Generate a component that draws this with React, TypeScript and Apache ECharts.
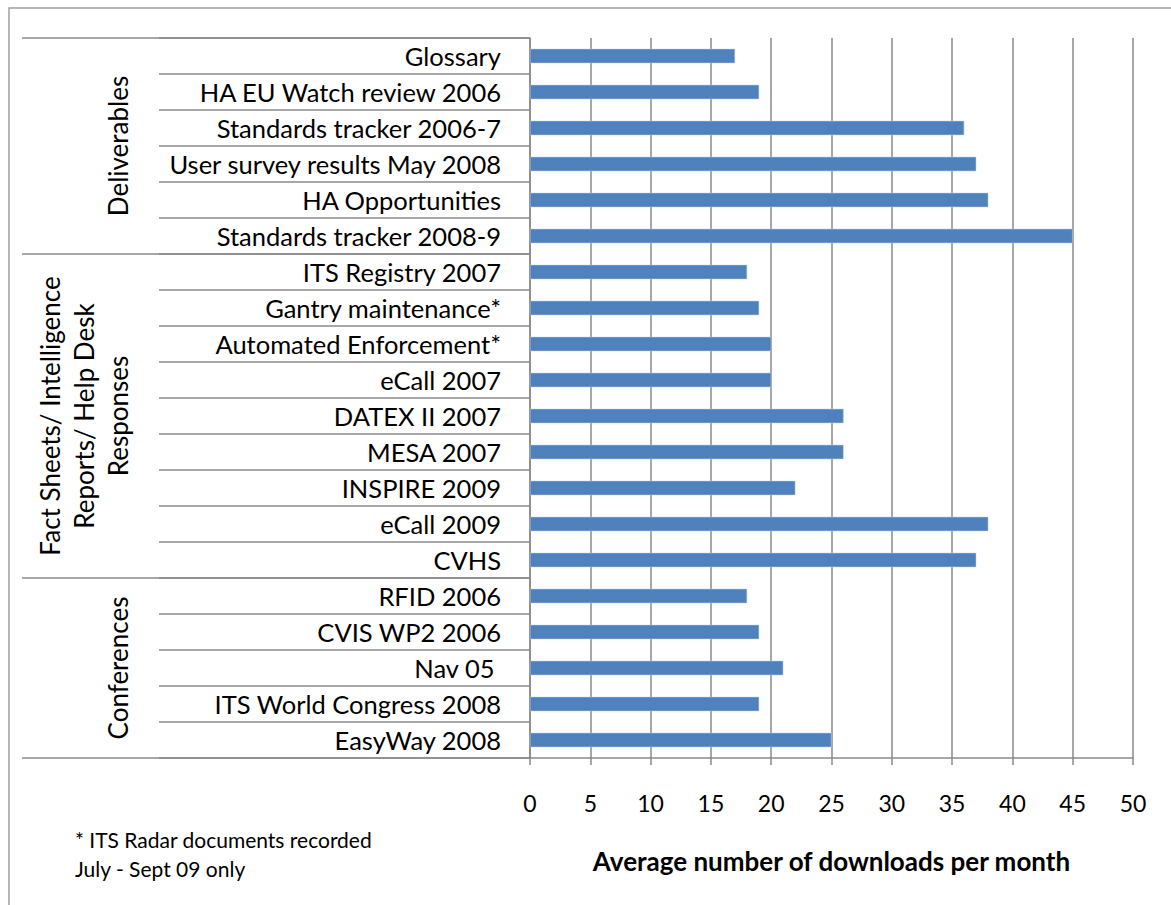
import React, { useEffect, useRef } from "react";
import * as echarts from "echarts";

const categories = [
  "Glossary",
  "HA EU Watch review 2006",
  "Standards tracker 2006-7",
  "User survey results May 2008",
  "HA Opportunities",
  "Standards tracker 2008-9",
  "ITS Registry 2007",
  "Gantry maintenance*",
  "Automated Enforcement*",
  "eCall 2007",
  "DATEX II 2007",
  "MESA 2007",
  "INSPIRE 2009",
  "eCall 2009",
  "CVHS",
  "RFID 2006",
  "CVIS WP2 2006",
  "Nav 05 ",
  "ITS World Congress 2008",
  "EasyWay 2008",
];

const downloads = [17, 19, 36, 37, 38, 45, 18, 19, 20, 20, 26, 26, 22, 38, 37, 18, 19, 21, 19, 25];

const groupNames = ["Deliverables", "Fact Sheets/ Intelligence\nReports/ Help Desk\nResponses", "Conferences"];
const groupStarts = [0, 6, 15];
const groupEnds = [5, 14, 19];

const axisTitle = "Average number of downloads per month";
const footnote = "* ITS Radar documents recorded\nJuly - Sept 09 only";

const FONT = "Lato, 'Open Sans', sans-serif";
const GRAY = "#8a8a8a";

export default function App() {
  const ref = useRef<HTMLDivElement>(null);
  useEffect(() => {
    document.body.style.margin = "0";
    const chart = echarts.init(ref.current!, undefined, { renderer: "svg" });
    const gridPos = { left: 530, right: 38, top: 38, bottom: 147 };
    chart.setOption({
      animation: false,
      backgroundColor: "#ffffff",
      textStyle: { fontFamily: FONT },
      grid: [
        { ...gridPos, containLabel: false },
        { ...gridPos, containLabel: false },
      ],
      xAxis: [
        {
          type: "value",
          gridIndex: 0,
          min: 0,
          max: 50,
          interval: 5,
          position: "bottom",
          axisLine: { show: true, lineStyle: { color: GRAY, width: 1.5 } },
          axisTick: { show: true, length: 7, lineStyle: { color: GRAY, width: 1.5 } },
          splitLine: { show: true, lineStyle: { color: GRAY, width: 1.5 } },
          axisLabel: { fontSize: 23, color: "#000", margin: 33, fontFamily: FONT },
          name: axisTitle,
          nameLocation: "middle",
          nameGap: 90,
          nameTextStyle: { fontSize: 26, fontWeight: "bold", color: "#000", fontFamily: FONT },
        },
        {
          type: "value",
          gridIndex: 1,
          min: 0,
          max: 50,
          show: false,
        },
      ],
      yAxis: [
        {
          type: "category",
          gridIndex: 0,
          inverse: true,
          data: categories,
          axisLine: { show: true, lineStyle: { color: GRAY, width: 1.5 } },
          axisTick: { show: true, length: 371, interval: 0, lineStyle: { color: GRAY, width: 1.5 } },
          axisLabel: { interval: 0, fontSize: 25.5, color: "#000", margin: 29, fontFamily: FONT },
          splitLine: { show: false },
        },
        {
          type: "category",
          gridIndex: 1,
          inverse: true,
          data: categories,
          axisLine: { show: false },
          axisTick: {
            show: true,
            length: 508,
            interval: (index: number) => groupStarts.indexOf(index) >= 0,
            lineStyle: { color: GRAY, width: 1.5 },
          },
          axisLabel: { show: false },
          splitLine: { show: false },
        },
      ],
      series: [
        {
          type: "bar",
          xAxisIndex: 0,
          yAxisIndex: 0,
          data: downloads,
          barCategoryGap: "60%",
          itemStyle: { color: "#4f81bd", borderColor: "#b9cde5", borderWidth: 0.5 },
        },
      ],
    });

    const graphics: any[] = [
      {
        type: "rect",
        shape: { x: 9, y: 8, width: 1200, height: 1000 },
        style: { fill: "none", stroke: "#a0a0a0", lineWidth: 1.5 },
        silent: true,
        z: -1,
      },
      {
        type: "text",
        x: 75,
        y: 854,
        style: { text: footnote, font: `21px ${FONT}`, fill: "#000", lineHeight: 29, align: "left", verticalAlign: "middle" },
      },
    ];
    const xs = [118, 84, 118];
    groupNames.forEach((name, i) => {
      const y0 = chart.convertToPixel({ yAxisIndex: 0 }, groupStarts[i]) as number;
      const y1 = chart.convertToPixel({ yAxisIndex: 0 }, groupEnds[i]) as number;
      graphics.push({
        type: "text",
        x: xs[i],
        y: (y0 + y1) / 2,
        rotation: Math.PI / 2,
        style: { text: name, font: `26px ${FONT}`, fill: "#000", align: "center", verticalAlign: "middle", lineHeight: 34 },
      });
    });
    chart.setOption({ graphic: graphics });
    return () => chart.dispose();
  }, []);
  return <div ref={ref} style={{ width: 1171, height: 905 }} />;
}
